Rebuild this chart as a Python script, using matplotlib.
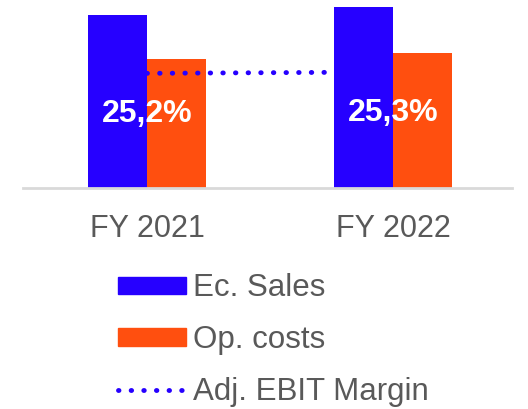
import matplotlib
matplotlib.use("Agg")
import matplotlib.pyplot as plt
from matplotlib.patches import Patch
from matplotlib.lines import Line2D
import numpy as np

plt.rcParams['font.family'] = ['Liberation Sans', 'DejaVu Sans']

years = ['FY 2021', 'FY 2022']
ec_sales = [173, 181]
op_costs = [129.4, 135.2]
ebit_margin = [25.2, 25.3]
margin_labels = ['25,2%', '25,3%']

BLUE = '#2600ff'
ORANGE = '#ff4f0f'
GRAY = '#595959'

W, H = 528, 409
fig = plt.figure(figsize=(W / 100, H / 100), dpi=100)
ax = fig.add_axes([23 / W, (H - 188) / H, (512 - 23) / W, 188 / H])

x = np.arange(len(years))
w = 0.24
ax.bar(x - w / 2, ec_sales, w, color=BLUE, zorder=2)
ax.bar(x + w / 2, op_costs, w, color=ORANGE, zorder=2)
ax.set_xlim(-0.504, 1.484)
ax.set_ylim(0, 188)

# margin line on its own scale, drawn over the bars
ax2 = ax.twinx()
ax2.set_ylim(16.38, 30.84)
ax2.plot(x, ebit_margin, color=BLUE, linewidth=3.5, linestyle=(0, (0.1, 2.5)),
         dash_capstyle='round', zorder=3)
for xi, m, lab in zip(x, ebit_margin, margin_labels):
    ax2.annotate(lab, (xi, m), xytext=(0, -41), textcoords='offset pixels',
                 ha='center', va='center', color='white', fontsize=23,
                 fontweight='bold')

for a in (ax, ax2):
    for s in ('top', 'right', 'left'):
        a.spines[s].set_visible(False)
    a.set_yticks([])
ax2.spines['bottom'].set_visible(False)
ax.spines['bottom'].set_color('#d9d9d9')
ax.spines['bottom'].set_linewidth(2)
ax.set_xticks(x)
ax.set_xticklabels(years, fontsize=22, color=GRAY)
ax.tick_params(axis='x', length=0, pad=19)

handles = [Patch(color=BLUE), Patch(color=ORANGE),
           Line2D([], [], color=BLUE, linewidth=3.5, linestyle=(0, (0.1, 2.5)),
                  dash_capstyle='round')]
labels = ['Ec. Sales', 'Op. costs', 'Adj. EBIT Margin']
leg = fig.legend(handles, labels, loc='upper left',
                 bbox_to_anchor=(118 / W, 1 - 273.5 / H),
                 frameon=False, fontsize=22.5, handlelength=2.18,
                 handleheight=0.48, handletextpad=0.22, labelspacing=0.69,
                 borderpad=0, borderaxespad=0)
for t in leg.get_texts():
    t.set_color(GRAY)

fig.savefig('out.png', dpi=100)
